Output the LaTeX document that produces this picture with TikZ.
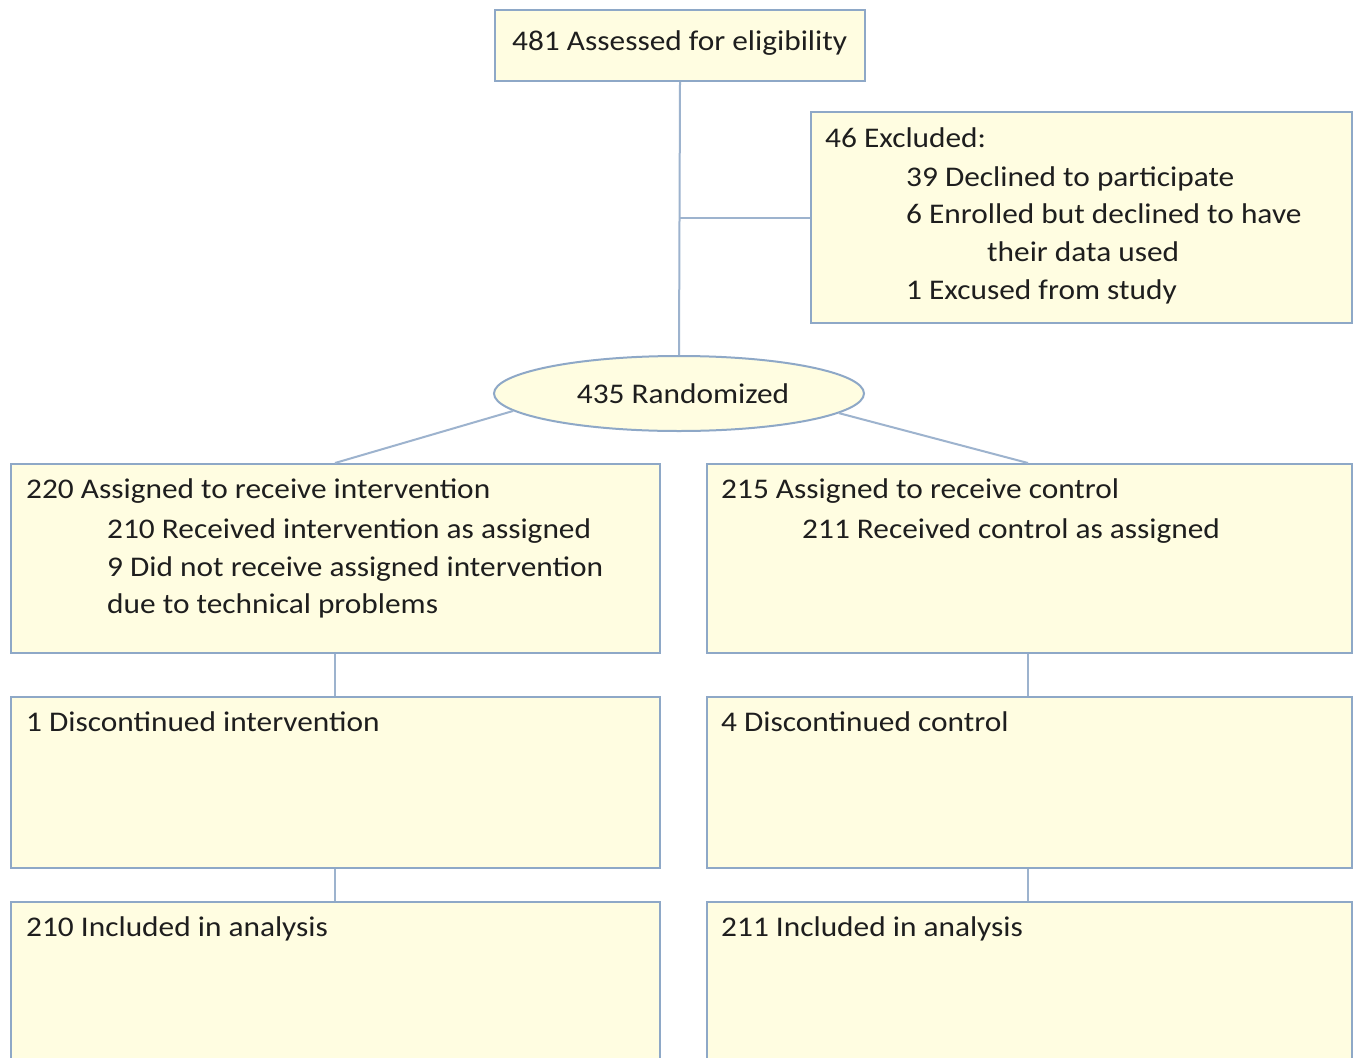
\documentclass[tikz,border=0pt]{standalone}
\usepackage{fontspec}
\setmainfont{Carlito}[FakeStretch=1.1]
\usetikzlibrary{shapes.geometric}
\definecolor{bd}{HTML}{8EA8C7}
\definecolor{fl}{HTML}{FFFDE1}
\definecolor{ln}{HTML}{9DB3CE}
\definecolor{tx}{HTML}{1E1E1E}
\begin{document}
\begin{tikzpicture}[x=1pt,y=-1pt,
 box/.style={draw=bd,fill=fl,line width=2pt,anchor=north west,inner sep=0pt},
 txt/.style={anchor=base west,inner sep=0pt,text=tx,font=\fontsize{28.5}{34}\selectfont},
 conn/.style={draw=ln,line width=2pt}]
\clip (0,0) rectangle (1356,1057);
\fill[white] (0,0) rectangle (1356,1057);
% boxes
\node[box,minimum width=370pt,minimum height=71pt] (top) at (494,9) {};
\node[box,minimum width=541pt,minimum height=211pt] (excl) at (810,111) {};
\node[draw=bd,fill=fl,line width=2pt,ellipse,inner sep=0pt,minimum width=370pt,minimum height=75pt] (rand) at (679,393.5) {};
\node[box,minimum width=649pt,minimum height=189pt] (b1) at (10,463) {};
\node[box,minimum width=645pt,minimum height=189pt] (b2) at (706,463) {};
\node[box,minimum width=649pt,minimum height=171pt] (c1) at (10,696) {};
\node[box,minimum width=645pt,minimum height=171pt] (c2) at (706,696) {};
\node[box,minimum width=649pt,minimum height=180pt] (d1) at (10,901) {};
\node[box,minimum width=645pt,minimum height=180pt] (d2) at (706,901) {};
% connector points
\coordinate (lt) at (335,463);
\coordinate (rt) at (1028,463);
% connectors
\draw[conn] (top.south) -- (rand.north);
\draw[conn] (top.south |- excl.west) -- (excl.west);
\draw[conn] (rand.186.8) -- (lt);
\draw[conn] (rand.353.2) -- (rt);
\draw[conn] (lt |- b1.south) -- (lt |- c1.north);
\draw[conn] (rt |- b2.south) -- (rt |- c2.north);
\draw[conn] (lt |- c1.south) -- (lt |- d1.north);
\draw[conn] (rt |- c2.south) -- (rt |- d2.north);
% texts
\node[txt] (t0) at (512,51) {481 Assessed for eligibility};
\node[txt] (e0) at (825,147) {46 Excluded:};
\node[txt] (e1) at (906,186) {39 Declined to participate};
\node[txt] (e2) at (906,223) {6 Enrolled but declined to have};
\node[txt] (e3) at (987,261) {their data used};
\node[txt] (e4) at (906,299) {1 Excused from study};
\node[txt,anchor=base] (r0) at (683,403) {435 Randomized};
\node[txt] (a0) at (26,498) {220 Assigned to receive intervention};
\node[txt] (a1) at (107,538) {210 Received intervention as assigned};
\node[txt] (a2) at (107,576) {9 Did not receive assigned intervention};
\node[txt] (a3) at (107,613) {due to technical problems};
\node[txt] (b0) at (721,498) {215 Assigned to receive control};
\node[txt] (bb1) at (802,538) {211 Received control as assigned};
\node[txt] (c1t) at (26,731) {1 Discontinued intervention};
\node[txt] (c2t) at (721,731) {4 Discontinued control};
\node[txt] (d1t) at (26,936) {210 Included in analysis};
\node[txt] (d2t) at (721,936) {211 Included in analysis};
\end{tikzpicture}
\end{document}
